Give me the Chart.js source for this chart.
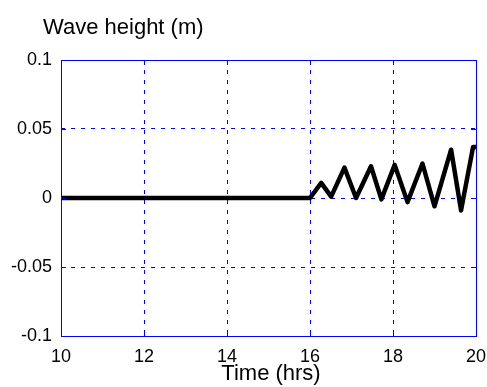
<!DOCTYPE html>
<html>
<head>
<meta charset="utf-8">
<script src="https://cdn.jsdelivr.net/npm/chart.js@4"></script>
<style>
  html, body { margin: 0; padding: 0; background: #fff; }
  #wrap { width: 487px; height: 387px; }
</style>
</head>
<body>
<div id="wrap"><canvas id="myChart" width="487" height="387"></canvas></div>
<script>
// time in hours and wave height in metres
const timeHrs = [10, 16.0, 16.27, 16.51, 16.83, 17.11, 17.47, 17.72, 18.04, 18.35, 18.71, 19.0, 19.4, 19.64, 19.93, 20.0];
const waveHeight = [0, 0, 0.011, 0.001, 0.022, 0.0, 0.023, -0.001, 0.024, -0.003, 0.025, -0.006, 0.035, -0.009, 0.037, 0.037];

const xTicks = [10, 12, 14, 16, 18, 20];
const yTicks = [-0.1, -0.05, 0, 0.05, 0.1];
const yLabels = ['-0.1', '-0.05', '0', '0.05', '0.1'];

const FONT = '"Liberation Sans", Arial, sans-serif';

const points = timeHrs.map(function(t, i) { return { x: t, y: waveHeight[i] }; });

// box round the plot, inward ticks and the two axis titles
const boxPlugin = {
    id: 'boxPlugin',
    afterDatasetsDraw: function(chart) {
        const ctx = chart.ctx;
        const a = chart.chartArea;
        const xs = chart.scales.x;
        const ys = chart.scales.y;
        ctx.save();
        ctx.strokeStyle = '#0000ff';
        ctx.lineWidth = 1;
        ctx.setLineDash([]);
        ctx.strokeRect(Math.round(a.left) + 0.5, Math.round(a.top) + 0.5, Math.round(a.right - a.left), Math.round(a.bottom - a.top));
        ctx.beginPath();
        yTicks.forEach(function(v) {
            const y = Math.round(ys.getPixelForValue(v)) + 0.5;
            ctx.moveTo(a.left, y); ctx.lineTo(a.left + 5, y);
            ctx.moveTo(a.right, y); ctx.lineTo(a.right - 5, y);
        });
        xTicks.forEach(function(v) {
            const x = Math.round(xs.getPixelForValue(v)) + 0.5;
            ctx.moveTo(x, a.bottom); ctx.lineTo(x, a.bottom - 5);
            ctx.moveTo(x, a.top); ctx.lineTo(x, a.top + 5);
        });
        ctx.stroke();
        ctx.restore();
    },
    afterDraw: function(chart) {
        const ctx = chart.ctx;
        ctx.save();
        ctx.fillStyle = '#000';
        ctx.font = '22px ' + FONT;
        ctx.textBaseline = 'alphabetic';
        ctx.textAlign = 'left';
        ctx.fillText('Wave height (m)', 43, 34);
        ctx.textAlign = 'center';
        ctx.fillText('Time (hrs)', 271, 380);
        ctx.restore();
    }
};

const ctx = document.getElementById('myChart').getContext('2d');
const myChart = new Chart(ctx, {
    type: 'line',
    data: {
        datasets: [{
            label: 'Wave height',
            data: points,
            borderColor: '#000000',
            borderWidth: 4.5,
            pointRadius: 0,
            tension: 0,
            borderJoinStyle: 'round',
            borderCapStyle: 'round',
            fill: false
        }]
    },
    options: {
        responsive: false,
        animation: false,
        layout: { padding: { left: 0, top: 60, right: 11, bottom: 0 } },
        plugins: {
            legend: { display: false },
            tooltip: { enabled: false }
        },
        scales: {
            x: {
                type: 'linear',
                min: 10,
                max: 20,
                afterBuildTicks: function(scale) {
                    scale.ticks = xTicks.map(function(v) { return { value: v }; });
                },
                afterFit: function(scale) {
                    scale.height = 51;
                    scale.paddingLeft = 0;
                    scale.paddingRight = 0;
                },
                grid: { color: '#0000ff', lineWidth: 1, drawTicks: false },
                border: { display: false, dash: [4, 6] },
                ticks: {
                    color: '#000',
                    padding: 10,
                    maxRotation: 0,
                    font: { family: FONT, size: 18 }
                }
            },
            y: {
                type: 'linear',
                min: -0.1,
                max: 0.1,
                afterBuildTicks: function(scale) {
                    scale.ticks = yTicks.map(function(v) { return { value: v }; });
                },
                afterFit: function(scale) {
                    scale.width = 61;
                    scale.paddingTop = 0;
                    scale.paddingBottom = 0;
                },
                grid: { color: '#0000ff', lineWidth: 1, drawTicks: false },
                border: { display: false, dash: [4, 6] },
                ticks: {
                    color: '#000',
                    padding: 9,
                    font: { family: FONT, size: 18 },
                    callback: function(value) {
                        const i = yTicks.indexOf(value);
                        return i >= 0 ? yLabels[i] : '';
                    }
                }
            }
        }
    },
    plugins: [boxPlugin]
});
</script>
</body>
</html>
